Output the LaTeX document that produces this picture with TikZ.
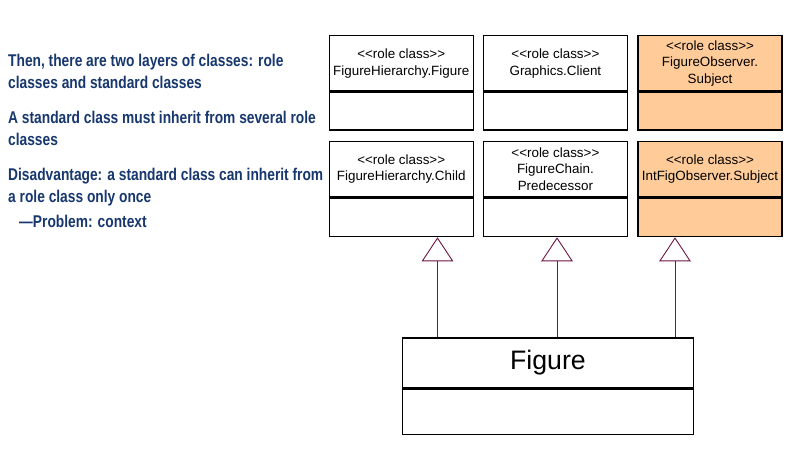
\documentclass[tikz,border=0pt]{standalone}
\usepackage{fontspec}
\usetikzlibrary{arrows.meta}
\newfontfamily\arialf{Liberation Sans}
\newfontfamily\condf[FakeStretch=0.81]{Liberation Sans Bold}
\definecolor{navytxt}{RGB}{23,55,110}
\definecolor{peach}{RGB}{255,204,153}
\definecolor{maroon}{RGB}{110,20,70}
\begin{document}
\begin{tikzpicture}[x=1pt,y=-1pt,
  classbox/.style={draw=black, line width=1.4pt, minimum width=144pt, inner xsep=0pt, inner ysep=0pt,
    align=center, anchor=north west, font=\arialf\fontsize{13.4}{16.5}\selectfont},
  rolefill/.style={fill=peach},
  lefttext/.style={anchor=base west, inner sep=0pt, text=navytxt, font=\condf\fontsize{17}{21}\selectfont},
  inh/.style={draw=maroon, line width=0.9pt, -{Triangle[open, length=24pt, width=31.6pt, fill=white]}}
]
\fill[white] (0,0) rectangle (786,454);
\useasboundingbox (0,0) rectangle (786,454);

% left text
\node[lefttext] (t1) at (8,67) {Then, there are two layers of classes: role};
\node[lefttext] (t2) at (8,89) {classes and standard classes};
\node[lefttext] (t3) at (8,124) {A standard class must inherit from several role};
\node[lefttext] (t4) at (8,146) {classes};
\node[lefttext] (t5) at (8,181) {Disadvantage: a standard class can inherit from};
\node[lefttext] (t6) at (8,202.5) {a role class only once};
\node[lefttext] (t7) at (19,228) {—Problem: context};

% top row
\node[classbox, minimum height=55.5pt] (u1) at (328.5,35) {<<role class>>\\FigureHierarchy.Figure};
\node[classbox, minimum height=37.5pt] (l1) at (u1.south west) {};
\node[classbox, minimum height=55.5pt] (u2) at (482.7,35) {<<role class>>\\Graphics.Client};
\node[classbox, minimum height=37.5pt] (l2) at (u2.south west) {};
\node[classbox, rolefill, minimum height=55.5pt] (u3) at (637.3,35) {<<role class>>\\FigureObserver.\\Subject};
\node[classbox, rolefill, minimum height=37.5pt] (l3) at (u3.south west) {};

% second row
\node[classbox, minimum height=55pt] (u4) at (328.5,141) {<<role class>>\\FigureHierarchy.Child};
\node[classbox, minimum height=38.5pt] (l4) at (u4.south west) {};
\node[classbox, minimum height=55pt] (u5) at (482.7,141) {<<role class>>\\FigureChain.\\Predecessor};
\node[classbox, minimum height=38.5pt] (l5) at (u5.south west) {};
\node[classbox, rolefill, minimum height=55pt] (u6) at (637.3,141) {<<role class>>\\IntFigObserver.Subject};
\node[classbox, rolefill, minimum height=38.5pt] (l6) at (u6.south west) {};

% Figure class
\node[classbox, minimum width=291pt, minimum height=49.4pt, font=\arialf\fontsize{26.7}{30}\selectfont] (fu) at (401.7,337.3) {Figure};
\node[classbox, minimum width=291pt, minimum height=45.6pt] (fl) at (fu.south west) {};

% inheritance
\coordinate (a1) at (437.5,0);
\coordinate (a2) at (557,0);
\coordinate (a3) at (675,0);
\draw[inh] (fu.north -| a1) -- (l4.south -| a1);
\draw[inh] (fu.north -| a2) -- (l5.south -| a2);
\draw[inh] (fu.north -| a3) -- (l6.south -| a3);
\end{tikzpicture}
\end{document}
